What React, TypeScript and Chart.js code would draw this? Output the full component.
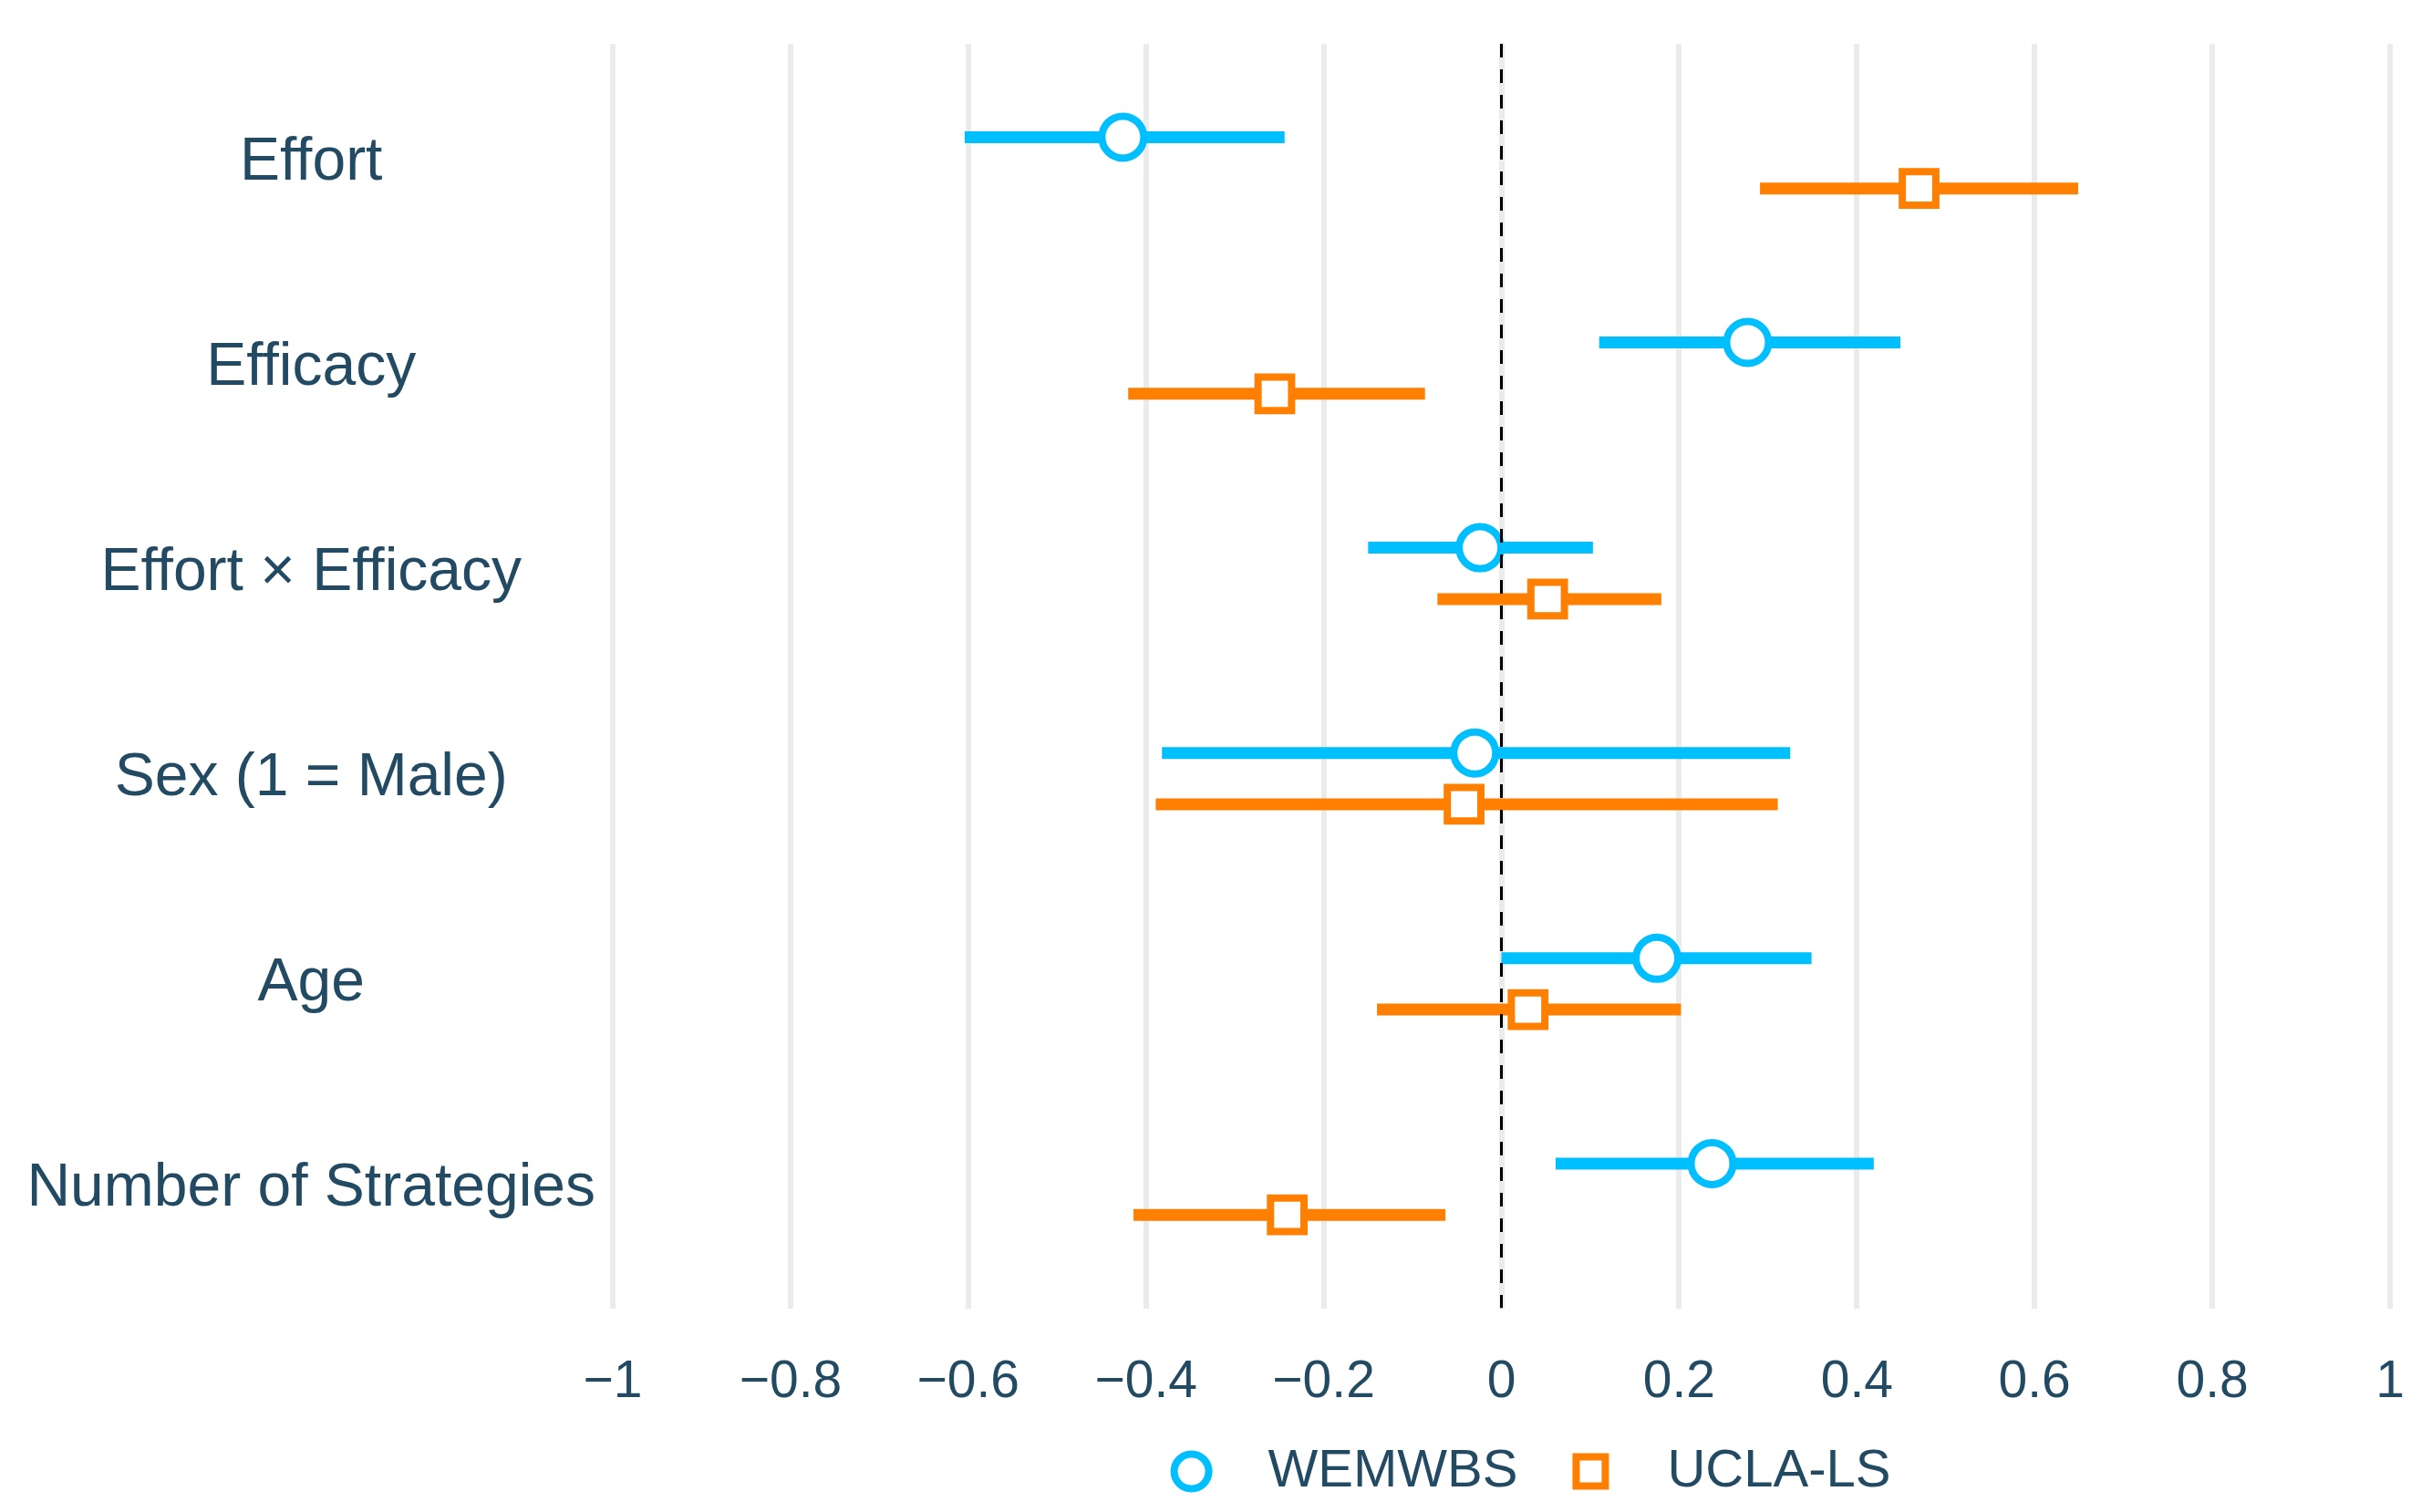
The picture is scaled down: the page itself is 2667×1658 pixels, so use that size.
import React, { useEffect, useRef } from "react";
import { Chart, registerables } from "chart.js";

Chart.register(...registerables);

const categories = [
  "Effort",
  "Efficacy",
  "Effort × Efficacy",
  "Sex (1 = Male)",
  "Age",
  "Number of Strategies",
];
const seriesNames = ["WEMWBS", "UCLA-LS"];

const wemwbsEst = [-0.426, 0.277, -0.024, -0.03, 0.175, 0.237];
const wemwbsLow = [-0.604, 0.11, -0.15, -0.382, 0.0, 0.061];
const wemwbsHigh = [-0.244, 0.449, 0.103, 0.325, 0.349, 0.419];

const uclaEst = [0.47, -0.255, 0.052, -0.042, 0.03, -0.241];
const uclaLow = [0.291, -0.42, -0.072, -0.389, -0.14, -0.414];
const uclaHigh = [0.649, -0.086, 0.18, 0.311, 0.202, -0.063];

const xTicks = [-1, -0.8, -0.6, -0.4, -0.2, 0, 0.2, 0.4, 0.6, 0.8, 1];

const X_MIN = -1;
const X_MAX = 1;
const Y_MIN = -0.58;
const Y_MAX = 5.58;
const DODGE = 0.125;

const BLUE = "#00BFFF";
const ORANGE = "#FF7F00";
const TEXT = "#234a63";
const FONT = "'Liberation Sans', Arial, sans-serif";

function barPoints(low: number[], high: number[], offset: number) {
  const pts: any[] = [];
  low.forEach((lo, i) => {
    pts.push({ x: lo, y: i + offset });
    pts.push({ x: high[i], y: i + offset });
    pts.push({ x: null, y: null });
  });
  return pts;
}

function markerPoints(est: number[], offset: number) {
  return est.map((v, i) => ({ x: v, y: i + offset }));
}

function fmt(v: number) {
  if (v === 0) return "0";
  const s = String(Math.round(Math.abs(v) * 10) / 10);
  return v < 0 ? "\u2212" + s : s;
}

// Legend drawn below the x axis, centred under the plot panel
const bottomLegend = {
  id: "bottomLegend",
  afterDraw(chart: any) {
    const { ctx, chartArea } = chart;
    const ds = [chart.data.datasets[1], chart.data.datasets[2]];
    ctx.save();
    ctx.font = `58px ${FONT}`;
    const widths = seriesNames.map((n) => ctx.measureText(n).width);
    const HALF = 23;
    const TEXT_GAP = 84;
    const ITEM_GAP = 80;
    const total = HALF + TEXT_GAP + widths[0] + ITEM_GAP + TEXT_GAP + widths[1];
    const cx = (chartArea.left + chartArea.right) / 2 + 32;
    const y = chartArea.bottom + 179;
    let x = cx - total / 2 + HALF;
    ds.forEach((d: any, i: number) => {
      ctx.lineWidth = 8;
      ctx.strokeStyle = d.borderColor;
      ctx.fillStyle = "#ffffff";
      ctx.beginPath();
      if (d.pointStyle === "circle") {
        ctx.arc(x, y, 19, 0, Math.PI * 2);
      } else {
        ctx.rect(x - 16, y - 16, 32, 32);
      }
      ctx.fill();
      ctx.stroke();
      ctx.fillStyle = TEXT;
      ctx.textAlign = "left";
      ctx.textBaseline = "middle";
      ctx.fillText(seriesNames[i], x + TEXT_GAP, y);
      x += TEXT_GAP + widths[i] + ITEM_GAP;
    });
    ctx.restore();
  },
};

export default function App() {
  const ref = useRef<HTMLCanvasElement | null>(null);

  useEffect(() => {
    if (!ref.current) return;
    Chart.defaults.font.family = FONT;
    const chart = new Chart(ref.current, {
      type: "scatter",
      plugins: [bottomLegend],
      data: {
        datasets: [
          {
            type: "line",
            label: "zero",
            data: [
              { x: 0, y: Y_MIN },
              { x: 0, y: Y_MAX },
            ],
            borderColor: "#000000",
            borderWidth: 3,
            borderDash: [15, 13],
            pointRadius: 0,
            order: 0,
          } as any,
          {
            label: seriesNames[0],
            data: markerPoints(wemwbsEst, -DODGE),
            pointStyle: "circle",
            pointRadius: 23,
            pointBorderWidth: 8,
            borderWidth: 8,
            borderColor: BLUE,
            backgroundColor: "#ffffff",
            pointBackgroundColor: "#ffffff",
            pointBorderColor: BLUE,
            order: 1,
          },
          {
            label: seriesNames[1],
            data: markerPoints(uclaEst, DODGE),
            pointStyle: "rect",
            pointRadius: 26,
            pointBorderWidth: 8,
            borderWidth: 8,
            borderColor: ORANGE,
            backgroundColor: "#ffffff",
            pointBackgroundColor: "#ffffff",
            pointBorderColor: ORANGE,
            order: 1,
          },
          {
            type: "line",
            label: "wemwbs-ci",
            data: barPoints(wemwbsLow, wemwbsHigh, -DODGE),
            borderColor: BLUE,
            borderWidth: 13,
            borderCapStyle: "butt",
            pointRadius: 0,
            spanGaps: false,
            order: 2,
          } as any,
          {
            type: "line",
            label: "ucla-ci",
            data: barPoints(uclaLow, uclaHigh, DODGE),
            borderColor: ORANGE,
            borderWidth: 13,
            borderCapStyle: "butt",
            pointRadius: 0,
            spanGaps: false,
            order: 2,
          } as any,
        ],
      },
      options: {
        animation: false,
        responsive: false,
        devicePixelRatio: 1,
        layout: { padding: { top: 48, right: 46, left: 0, bottom: 61 } },
        plugins: {
          tooltip: { enabled: false },
          legend: { display: false },
        },
        scales: {
          x: {
            type: "linear",
            min: X_MIN,
            max: X_MAX,
            afterBuildTicks: (scale: any) => {
              scale.ticks = xTicks.map((v) => ({ value: v }));
            },
            afterFit: (scale: any) => {
              scale.paddingLeft = 0;
              scale.paddingRight = 0;
            },
            grid: { color: "#ebebeb", lineWidth: 6, drawTicks: false },
            border: { display: false },
            ticks: {
              color: TEXT,
              font: { size: 57, family: FONT },
              padding: 47,
              maxRotation: 0,
              autoSkip: false,
              callback: (v: any) => fmt(Number(v)),
            },
          },
          y: {
            type: "linear",
            min: Y_MIN,
            max: Y_MAX,
            reverse: true,
            afterBuildTicks: (scale: any) => {
              scale.ticks = categories.map((_, i) => ({ value: i }));
            },
            afterFit: (scale: any) => {
              scale.width = 672;
              scale.paddingTop = 0;
              scale.paddingBottom = 0;
            },
            grid: { display: false, drawTicks: false },
            border: { display: false },
            ticks: {
              color: TEXT,
              font: { size: 66, family: FONT },
              crossAlign: "center",
              padding: 19,
              autoSkip: false,
              callback: (v: any) => categories[Number(v)] ?? "",
            },
          },
        },
      } as any,
    });
    return () => chart.destroy();
  }, []);

  return (
    <div style={{ position: "fixed", left: 0, top: 0, width: 2667, height: 1658, background: "#ffffff" }}>
      <canvas ref={ref} width={2667} height={1658} style={{ width: 2667, height: 1658 }} />
    </div>
  );
}
